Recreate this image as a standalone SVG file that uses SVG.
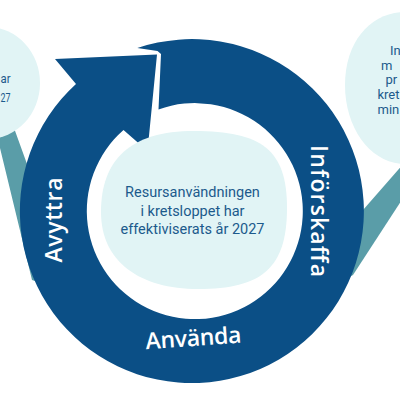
<svg xmlns="http://www.w3.org/2000/svg" width="400" height="400" viewBox="0 0 400 400">
  <style>
    .tail { fill: #5a9da8; }
    .bubble { fill: #e1f4f5; }
    .btxt { font-family: "Roboto", "Liberation Sans", sans-serif; font-size: 13px; fill: #1c5a8c; }
    .ctxt { font-family: "Roboto", "Liberation Sans", sans-serif; font-size: 14.5px; fill: #1c5a8c; text-anchor: middle; }
    .ring { fill: #0b4f86; }
    .lbl { font-family: "Open Sans", "Liberation Sans", sans-serif; font-size: 23px; font-weight: 600; fill: #ffffff; text-anchor: middle; }
  </style>
  <rect width="400" height="400" fill="#ffffff"/>

  <g id="bubble-left">
    <polygon class="tail" points="-6,126 14,128 40,200 38,282 32,280 0,148 -6,148"/>
    <ellipse class="bubble" cx="-12" cy="83" rx="52" ry="56"/>
    <text class="btxt" x="0.5" y="83" textLength="10" lengthAdjust="spacingAndGlyphs">ar</text>
    <text class="btxt" x="0.5" y="101.5" textLength="10" lengthAdjust="spacingAndGlyphs">27</text>
  </g>

  <g id="bubble-right">
    <polygon class="tail" points="420,145 363,210 345,235 340,282 353,275 420,172"/>
    <path class="bubble" d="M 405,12 C 372,12 345,40 345,85 C 345,130 372,164 405,164 L 460,164 L 460,12 Z"/>
    <text class="btxt" x="390" y="55">In</text>
    <text class="btxt" x="381" y="70">m</text>
    <text class="btxt" x="385.5" y="84">pr</text>
    <text class="btxt" x="377.5" y="99">kret</text>
    <text class="btxt" x="377.5" y="114">min</text>
  </g>

  <g id="connectors">
    <path class="ring" d="M 137.3,48 A 172 172 0 1 1 76,84 L 55,59 L 157,54.5 L 147.5,151 L 123.5,130 A 108 108 0 1 0 158.5,109.4 L 161,54 L 157.5,51 Z"/>
  </g>

  <g id="label-inforskaffa">
    <text class="lbl" transform="translate(310.5,211) rotate(90)" textLength="132">Införskaffa</text>
  </g>
  <g id="label-anvanda">
    <text class="lbl" transform="translate(194,346) rotate(-4)" textLength="96" font-size="24">Använda</text>
  </g>
  <g id="label-avyttra">
    <text class="lbl" transform="translate(61.5,220) rotate(-90)" textLength="85">Avyttra</text>
  </g>

  <g id="center">
    <path class="bubble" d="M 194,131 C 262,131 287,150 287,208 C 287,268 262,289 198,289 C 140,289 101,262 101,212 C 101,160 130,131 194,131 Z"/>
    <text class="ctxt" x="192.5" y="197">Resursanvändningen</text>
    <text class="ctxt" x="192.5" y="215.5">i kretsloppet har</text>
    <text class="ctxt" x="192.5" y="234">effektiviserats år 2027</text>
  </g>
</svg>
